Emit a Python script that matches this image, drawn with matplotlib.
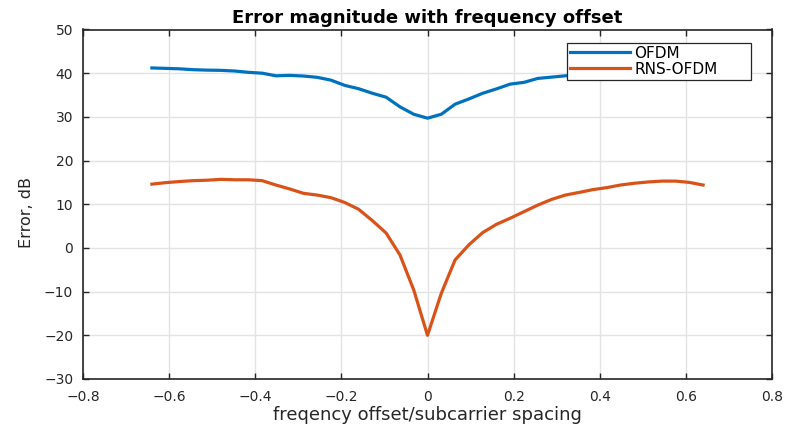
import matplotlib
matplotlib.use("Agg")
import matplotlib.pyplot as plt
import numpy as np

# ---- data ----
offset = [round(-0.64 + 0.032 * i, 3) for i in range(41)]
ofdm = [41.2, 41.1, 41.0, 40.8, 40.7, 40.65, 40.5, 40.2, 40.0, 39.4,
        39.5, 39.35, 39.05, 38.4, 37.2, 36.45, 35.4, 34.5, 32.3, 30.6,
        29.7,
        30.6, 32.9, 34.1, 35.4, 36.4, 37.5, 37.9, 38.8, 39.1, 39.4,
        39.6, 39.9, 40.1, 40.3, 40.4, 40.6, 40.7, 40.8, 40.9, 41.0]
rns_ofdm = [14.6, 14.95, 15.2, 15.4, 15.5, 15.7, 15.6, 15.6, 15.4, 14.4,
            13.5, 12.5, 12.1, 11.5, 10.4, 8.85, 6.25, 3.4, -1.6, -9.6,
            -20.0,
            -10.4, -2.75, 0.7, 3.5, 5.4, 6.8, 8.3, 9.8, 11.1, 12.1,
            12.7, 13.35, 13.8, 14.4, 14.8, 15.1, 15.3, 15.3, 15.0, 14.4]
series_names = ["OFDM", "RNS-OFDM"]
xticks = [-0.8, -0.6, -0.4, -0.2, 0, 0.2, 0.4, 0.6, 0.8]
xtick_labels = ["\u22120.8", "\u22120.6", "\u22120.4", "\u22120.2", "0", "0.2", "0.4", "0.6", "0.8"]
yticks = [-30, -20, -10, 0, 10, 20, 30, 40, 50]
ytick_labels = ["\u221230", "\u221220", "\u221210", "0", "10", "20", "30", "40", "50"]
title = "Error magnitude with frequency offset"
xlabel = "freqency offset/subcarrier spacing"
ylabel = "Error, dB"

plt.rcParams['font.family'] = ['DejaVu Sans']
axcol = '#262626'

fig = plt.figure(figsize=(7.87, 4.26), dpi=100)
ax = fig.add_axes([83 / 787, 47 / 426, 689 / 787, 349.5 / 426])

ax.plot(offset, ofdm, color='#0072BD', lw=2.3, label=series_names[0], solid_joinstyle='round')
ax.plot(offset, rns_ofdm, color='#D95319', lw=2.3, label=series_names[1], solid_joinstyle='round')

ax.set_xlim(-0.8, 0.8)
ax.set_ylim(-30, 50)
ax.set_xticks(xticks)
ax.set_xticklabels(xtick_labels)
ax.set_yticks(yticks)
ax.set_yticklabels(ytick_labels)
ax.grid(True, color='#e3e3e3', lw=1.0)
ax.set_axisbelow(True)

ax.tick_params(direction='in', length=4, width=1.0, colors=axcol, labelsize=10,
               top=True, right=True, labeltop=False, labelright=False)
ax.tick_params(axis='x', pad=8)
ax.tick_params(axis='y', pad=7)
for s in ax.spines.values():
    s.set_color(axcol)
    s.set_linewidth(1.2)

ax.set_title(title, fontsize=13, fontweight='bold', color='black', pad=5)
ax.set_xlabel(xlabel, fontsize=13, color=axcol, labelpad=1)
ax.set_ylabel(ylabel, fontsize=11.5, color=axcol)
ax.yaxis.set_label_coords(-0.071, 0.475)

leg = ax.legend(loc='upper left', bbox_to_anchor=(0.7025, 0.8555, 0.267, 0.1067),
                mode='expand', fontsize=11, handlelength=3.9, handletextpad=0.3,
                labelspacing=0.05, borderpad=0.2, borderaxespad=0, fancybox=False,
                framealpha=1, edgecolor=axcol)
leg.get_frame().set_linewidth(0.9)
for t in leg.get_texts():
    t.set_color('black')

fig.savefig('out.png', dpi=100)
